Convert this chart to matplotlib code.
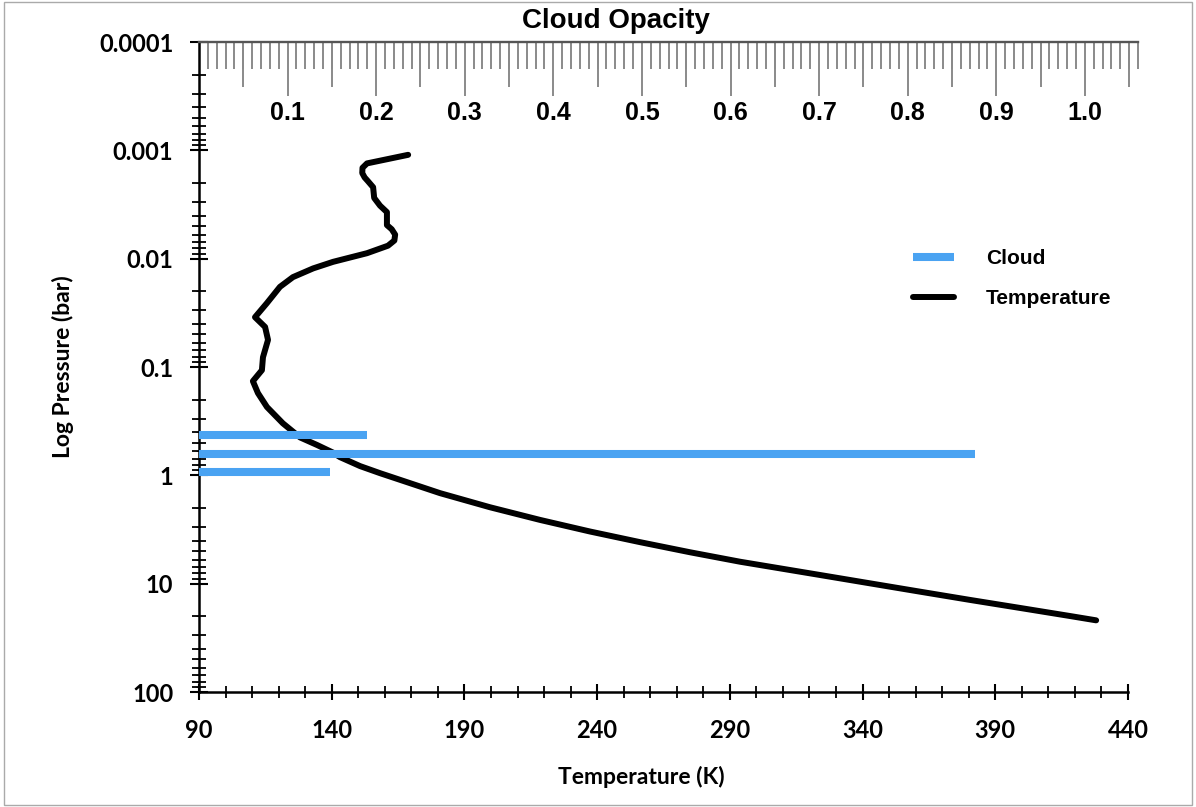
import numpy as np
import matplotlib
matplotlib.use("Agg")
from matplotlib import pyplot as plt
from matplotlib.lines import Line2D
from matplotlib.patches import Rectangle
from matplotlib.ticker import FixedLocator, MultipleLocator, LogLocator, NullFormatter

# temperature profile
temp_K = [168.8, 153.3, 151.6, 151.5, 152.4, 153.6, 155.6, 156.0, 158.2, 160.8,
          160.8, 162.6, 163.9, 163.6, 161.2, 153.3, 140.5, 133.0, 125.4, 120.5,
          115.6, 111.1, 114.9, 116.0, 114.1, 113.7, 110.3, 112.2, 115.6, 121.6,
          128.1, 134.5, 140.5, 143.1, 150.7, 158.2, 180.8, 199.6, 218.5, 237.3,
          256.2, 275.0, 293.8, 305.1, 324.0, 342.8, 361.7, 380.5, 399.3, 418.2,
          428.0]
pressure_bar = [0.0011, 0.00132, 0.00145, 0.00162, 0.00178, 0.00192, 0.00219, 0.00275, 0.00324, 0.00372,
                0.0049, 0.00535, 0.0060, 0.0068, 0.00759, 0.0089, 0.0107, 0.0123, 0.0148, 0.0182,
                0.0257, 0.0347, 0.0427, 0.0562, 0.0813, 0.107, 0.135, 0.174, 0.234, 0.331,
                0.447, 0.525, 0.617, 0.679, 0.822, 0.955, 1.46, 1.97, 2.58, 3.30,
                4.14, 5.13, 6.27, 6.97, 8.32, 9.93, 11.86, 14.13, 16.75, 19.9,
                21.8]

# cloud layers
cloud_pressure = [0.42, 0.63, 0.93]
cloud_opacity = [0.19, 0.876, 0.148]

temp_ticks = [90, 140, 190, 240, 290, 340, 390, 440]
p_ticks = [0.0001, 0.001, 0.01, 0.1, 1, 10, 100]
p_labels = ["0.0001", "0.001", "0.01", "0.1", "1", "10", "100"]
op_ticks = [0.1, 0.2, 0.3, 0.4, 0.5, 0.6, 0.7, 0.8, 0.9, 1.0]

blue = "#4aa3f2"
calib = "Lato"
helv = "Liberation Sans"

fig = plt.figure(figsize=(11.96, 8.07), dpi=100)
W, H = 1196, 807
x0, x1, ytop, ybot = 199, 1128, 42, 692

ax = fig.add_axes([x0 / W, (H - ybot) / H, (x1 - x0) / W, (ybot - ytop) / H])
ax.plot(temp_K, pressure_bar, color="black", lw=4.3, solid_capstyle="round", solid_joinstyle="round")
ax.set_yscale("log")
ax.set_ylim(100, 0.0001)
ax.set_xlim(90, 440)

for s in ["top", "right"]:
    ax.spines[s].set_visible(False)
for s in ["left", "bottom"]:
    ax.spines[s].set_linewidth(1.8)

ax.xaxis.set_major_locator(FixedLocator(temp_ticks))
ax.xaxis.set_minor_locator(MultipleLocator(10))
ax.set_xticklabels([str(t) for t in temp_ticks])
ax.yaxis.set_major_locator(FixedLocator(p_ticks))
ax.yaxis.set_minor_locator(LogLocator(base=10, subs=np.arange(2, 10)))
ax.yaxis.set_minor_formatter(NullFormatter())
ax.set_yticklabels(p_labels)

ax.tick_params(axis="x", which="major", direction="inout", length=11, width=1.5, pad=14)
ax.tick_params(axis="x", which="minor", direction="inout", length=8, width=1.3)
ax.tick_params(axis="y", which="major", direction="inout", length=13, width=1.5, pad=12)
ax.tick_params(axis="y", which="minor", direction="inout", length=10, width=1.3)
for lab in ax.get_xticklabels() + ax.get_yticklabels():
    lab.set_fontfamily(calib)
    lab.set_fontweight("bold")
    lab.set_fontsize(17)

ax.set_xlabel("Temperature (K)", fontfamily=calib, fontweight="bold", fontsize=16.5)
ax.set_ylabel("Log Pressure (bar)", fontfamily=calib, fontweight="bold", fontsize=16.5)
ax.xaxis.set_label_coords(0.476, -0.13)
ax.xaxis.label.set_va("center")
ax.yaxis.set_label_coords(-0.146, 0.501)
ax.yaxis.label.set_va("center")

# cloud opacity on its own top scale (a bit wider than the temperature axis)
axt = fig.add_axes([x0 / W, (H - ybot) / H, 939 / W, (ybot - ytop) / H], sharey=ax)
axt.patch.set_visible(False)
axt.hlines(cloud_pressure, 0, cloud_opacity, color=blue, lw=5.8)
axt.set_xlim(0, 1.06)
for s in ["left", "right", "bottom"]:
    axt.spines[s].set_visible(False)
axt.spines["top"].set_color("#555555")
axt.spines["top"].set_linewidth(1.7)
axt.tick_params(axis="y", left=False, labelleft=False)
axt.xaxis.tick_top()
axt.xaxis.set_major_locator(FixedLocator(op_ticks))
axt.set_xticklabels(["%.1f" % v for v in op_ticks])
axt.xaxis.set_minor_locator(FixedLocator(np.round(np.arange(0.01, 1.065, 0.01), 2)))
axt.tick_params(axis="x", which="major", direction="in", length=39, width=1.4, color="#8a8a8a", pad=-60)
axt.tick_params(axis="x", which="minor", direction="in", length=19.5, width=1.4, color="#8a8a8a")
for lab in axt.get_xticklabels():
    lab.set_fontfamily(helv)
    lab.set_fontweight("bold")
    lab.set_fontsize(18)
# medium ticks at the half-tenths
half = axt.secondary_xaxis("top")
half.set_xticks(np.round(np.arange(0.05, 1.06, 0.1), 2))
half.set_xticklabels([])
half.tick_params(direction="in", length=32.5, width=1.4, color="#8a8a8a")
half.spines["top"].set_visible(False)

fig.text(616 / W, 1 - 21 / H, "Cloud Opacity", ha="center", va="center",
         fontfamily=helv, fontweight="bold", fontsize=20)

handles = [Line2D([], [], color=blue, lw=5.8, solid_capstyle="butt"),
           Line2D([], [], color="black", lw=4.3, solid_capstyle="round")]
leg = axt.legend(handles, ["Cloud", "Temperature"], loc="upper left",
                 bbox_to_anchor=(913 / W, 1 - 249 / H), bbox_transform=fig.transFigure,
                 frameon=False, borderpad=0, borderaxespad=0, handlelength=1.97,
                 handletextpad=1.54, labelspacing=1.0,
                 prop={"family": helv, "weight": "bold", "size": 15})

fig.patches.append(Rectangle((0.003, 0.002), 0.994, 0.995, transform=fig.transFigure,
                             fill=False, edgecolor="#aaaaaa", lw=1))

fig.savefig("out.png", dpi=100)
